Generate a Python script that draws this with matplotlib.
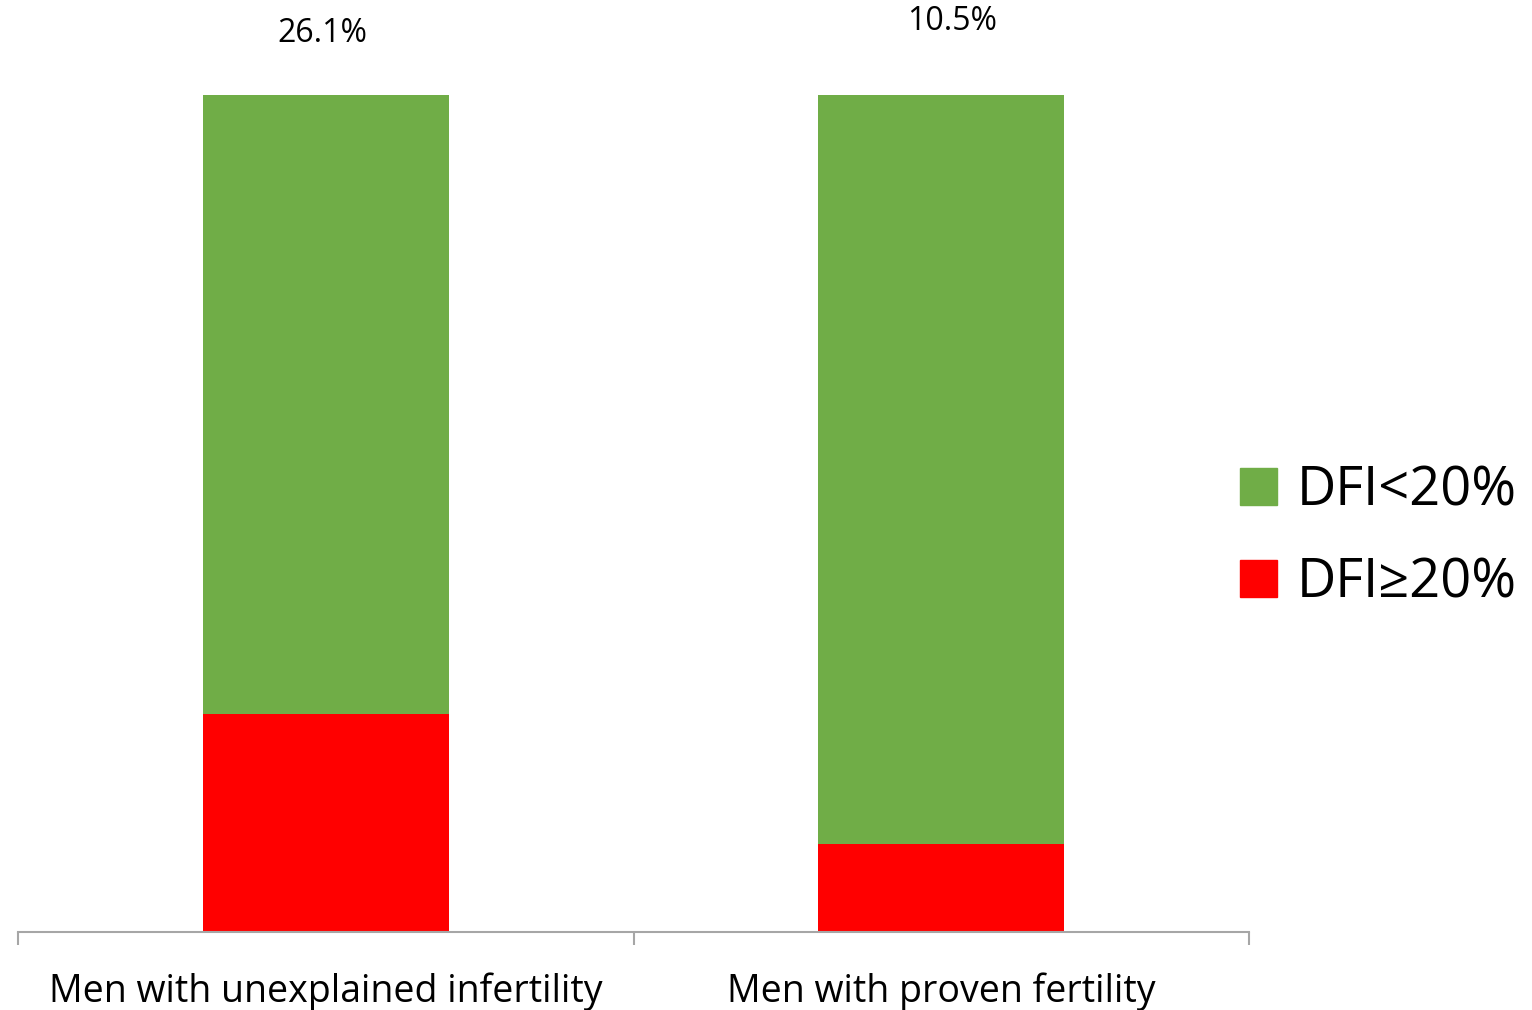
import matplotlib.pyplot as plt
from matplotlib.patches import Patch

# === Data ===
groups = ["Men with unexplained infertility", "Men with proven fertility"]
dfi_high = [26.1, 10.5]   # DFI>=20% (red, bottom)
dfi_low = [73.9, 89.5]    # DFI<20% (green, top)
top_labels = ["26.1%", "10.5%"]

# label placement (layout only)
label_dx = [-0.005, 0.018]
label_y = [107.4, 108.8]

green = "#70AD47"
red = "#FF0000"

plt.rcParams["font.family"] = ["Open Sans", "DejaVu Sans"]

fig = plt.figure(figsize=(15.32, 10.10), dpi=100)
ax = fig.add_axes([18 / 1532, 1 - 932 / 1010, 1231 / 1532, 837 / 1010])

x = list(range(len(groups)))
ax.bar(x, dfi_high, width=0.4, color=red, label="DFI\u226520%")
ax.bar(x, dfi_low, width=0.4, bottom=dfi_high, color=green, label="DFI<20%")

for xi, dx, txt, yy in zip(x, label_dx, top_labels, label_y):
    ax.text(xi + dx, yy, txt, ha="center", va="center", fontsize=23, clip_on=False)

ax.set_xlim(-0.5, 1.5)
ax.set_ylim(0, 100)

# Clean up axes
for s in ["top", "right", "left"]:
    ax.spines[s].set_visible(False)
ax.spines["bottom"].set_color("#A6A6A6")
ax.spines["bottom"].set_linewidth(1.5)
ax.set_yticks([])
ax.set_xticks([-0.5, 0.5, 1.5])
ax.set_xticklabels([])
ax.tick_params(axis="x", which="major", length=9, width=1.5, color="#A6A6A6", direction="out")
ax.set_xticks(x, minor=True)
ax.set_xticklabels(groups, minor=True, fontsize=27)
ax.tick_params(axis="x", which="minor", length=0, pad=29)

# Legend
handles = [Patch(color=green, label="DFI<20%"), Patch(color=red, label="DFI\u226520%")]
fig.legend(handles=handles, loc="center left",
           bbox_to_anchor=(1240 / 1532, 1 - 537 / 1010),
           frameon=False, fontsize=39, handlelength=0.68, handleheight=0.68,
           handletextpad=0.36, labelspacing=0.68, borderpad=0, borderaxespad=0)

fig.savefig("out.png", dpi=100)
